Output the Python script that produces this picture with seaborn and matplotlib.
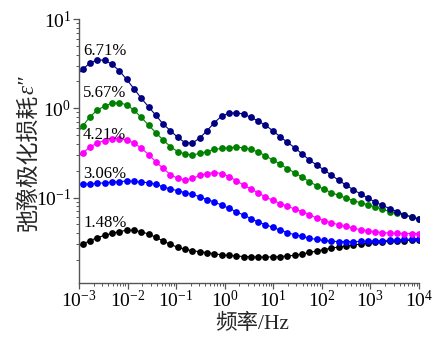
import numpy as np
import pandas as pd
import matplotlib
matplotlib.use("Agg")
import matplotlib.pyplot as plt
import seaborn as sns

# Measurement frequencies (Hz), sqrt(2) steps from 1e4 Hz down
freq_hz = [0.000843, 0.001192, 0.001686, 0.002384, 0.003372, 0.004768, 0.006744,
           0.009537, 0.01349, 0.01907, 0.02697, 0.03815, 0.05394, 0.07629,
           0.1079, 0.1526, 0.2158, 0.3052, 0.4316, 0.6104, 0.8632,
           1.221, 1.726, 2.441, 3.453, 4.883, 6.905, 9.766,
           13.81, 19.53, 27.62, 39.06, 55.24, 78.13, 110.5,
           156.25, 221.0, 312.5, 441.9, 625.0, 883.9, 1250.0,
           1768.0, 2500.0, 3536.0, 5000.0, 7071.0, 10000.0]

# Relaxation polarization loss for each moisture content
loss_671 = [2.30, 2.73, 3.24, 3.47, 3.47, 3.11, 2.64, 2.11, 1.66, 1.30,
            1.04, 0.835, 0.667, 0.561, 0.473, 0.412, 0.408, 0.465, 0.561, 0.690,
            0.820, 0.879, 0.893, 0.863, 0.792, 0.721, 0.645, 0.561, 0.481, 0.416,
            0.362, 0.308, 0.264, 0.232, 0.204, 0.179, 0.157, 0.138, 0.123, 0.110,
            0.0990, 0.0893, 0.0817, 0.0755, 0.0698, 0.0647, 0.0607, 0.0569]
loss_567 = [0.502, 0.634, 0.805, 0.957, 1.06, 1.14, 1.16, 1.09, 0.957, 0.792,
            0.650, 0.533, 0.442, 0.372, 0.327, 0.308, 0.300, 0.312, 0.328, 0.346,
            0.356, 0.364, 0.366, 0.362, 0.348, 0.324, 0.294, 0.264, 0.238, 0.211,
            0.190, 0.170, 0.151, 0.136, 0.124, 0.114, 0.106, 0.0990, 0.0923, 0.0877,
            0.0832, 0.0785, 0.0740, 0.0698, 0.0664, 0.0634, 0.0607, 0.0583]
loss_421 = [0.278, 0.316, 0.369, 0.409, 0.436, 0.453, 0.459, 0.442, 0.409, 0.359,
            0.304, 0.252, 0.212, 0.181, 0.164, 0.157, 0.164, 0.177, 0.186, 0.191,
            0.186, 0.172, 0.155, 0.138, 0.125, 0.113, 0.1016, 0.0933, 0.0859, 0.0799,
            0.0745, 0.0695, 0.0647, 0.0591, 0.0554, 0.0523, 0.0497, 0.0475, 0.0453, 0.0439,
            0.0426, 0.0415, 0.0406, 0.0401, 0.0398, 0.0396, 0.0396, 0.0396]
loss_306 = [0.142, 0.142, 0.142, 0.1445, 0.1468, 0.1495, 0.1507, 0.1535, 0.1523, 0.1495,
            0.1468, 0.1409, 0.1324, 0.1248, 0.1195, 0.1135, 0.1089, 0.1023, 0.0952, 0.0893,
            0.0826, 0.0759, 0.0695, 0.0638, 0.0583, 0.0533, 0.0497, 0.0465, 0.0434, 0.0405,
            0.0384, 0.0369, 0.0351, 0.0340, 0.0331, 0.0325, 0.0322, 0.0321, 0.0321, 0.0323,
            0.0326, 0.0328, 0.0330, 0.0333, 0.0335, 0.0340, 0.0342, 0.0348]
loss_148 = [0.0280, 0.0302, 0.0329, 0.0357, 0.0378, 0.0398, 0.0417, 0.0430, 0.0430, 0.0415,
            0.0391, 0.0359, 0.0327, 0.0299, 0.0278, 0.0264, 0.0254, 0.0248, 0.0242, 0.0235,
            0.0229, 0.0225, 0.0222, 0.0219, 0.0218, 0.0216, 0.0216, 0.0217, 0.0219, 0.0222,
            0.0226, 0.0234, 0.0243, 0.0252, 0.0262, 0.0271, 0.0280, 0.0287, 0.0295, 0.0302,
            0.0309, 0.0315, 0.0319, 0.0323, 0.0327, 0.0330, 0.0333, 0.0335]

contents = ["1.48%", "3.06%", "4.21%", "5.67%", "6.71%"]
series = [loss_148, loss_306, loss_421, loss_567, loss_671]
colors = ["#000000", "#0000FF", "#FF00FF", "#008000", "#000080"]
label_y = [0.212, 0.398, 0.545, 0.705, 0.864]

df = pd.concat(
    [pd.DataFrame({"freq": freq_hz, "loss": vals, "content": name})
     for name, vals in zip(contents, series)],
    ignore_index=True,
)

sns.set_style("ticks")
plt.rcParams["font.family"] = ["Liberation Serif", "Noto Sans CJK SC"]
plt.rcParams["mathtext.fontset"] = "stix"

fig = plt.figure(figsize=(4.39, 3.38), dpi=100)
ax = fig.add_axes([0.18, 0.1627, 0.7745, 0.781])

sns.lineplot(
    data=df, x="freq", y="loss", hue="content", hue_order=contents,
    palette=dict(zip(contents, colors)), marker="o", markersize=4.9,
    markeredgewidth=0, linewidth=0.8, legend=False, ax=ax, sort=True,
)

ax.set_xscale("log")
ax.set_yscale("log")
ax.set_xlim(1e-3, 1e4)
ax.set_ylim(0.01106, 10)
ax.xaxis.set_major_locator(matplotlib.ticker.LogLocator(base=10, numticks=20))
ax.xaxis.set_minor_locator(matplotlib.ticker.LogLocator(base=10, subs=np.arange(2, 10), numticks=20))
ax.yaxis.set_major_locator(matplotlib.ticker.FixedLocator([0.1, 1, 10]))
ax.yaxis.set_minor_locator(matplotlib.ticker.LogLocator(base=10, subs=np.arange(2, 10), numticks=20))

sns.despine(ax=ax)
for side in ("left", "bottom"):
    ax.spines[side].set_color("#555555")
    ax.spines[side].set_linewidth(1.0)
ax.tick_params(which="major", direction="out", length=4.5, width=0.9, color="#555555",
               labelsize=14, labelcolor="black")
ax.tick_params(which="minor", direction="out", length=2.5, width=0.7, color="#555555")
ax.tick_params(axis="y", which="major", pad=1)
ax.tick_params(axis="x", which="major", pad=0.5)

for name, yf in zip(contents, label_y):
    ax.text(0.012, yf, name, transform=ax.transAxes, fontsize=12,
            fontfamily="Liberation Serif", color="black", va="baseline", ha="left")

ax.set_xlabel("")
ax.set_ylabel("")
fig.text(252 / 439, 1 - 314 / 338, "频率/Hz", fontsize=15.5, ha="center", va="top",
         fontfamily=["Liberation Serif", "Noto Sans CJK SC"])

ylab = fig.text(28 / 439, 1 - 231 / 338, "弛豫极化损耗", fontsize=16.5, rotation=90,
                ha="center", va="bottom", fontfamily=["Noto Sans CJK SC"])
fig.canvas.draw()
bb = ylab.get_window_extent(fig.canvas.get_renderer())
top_frac = bb.y1 / fig.bbox.height
fig.text(28 / 439, top_frac, "ε″", fontsize=16.5, rotation=90, ha="center", va="bottom",
         fontfamily="Liberation Serif", style="italic")

fig.savefig("out.png", dpi=100)
